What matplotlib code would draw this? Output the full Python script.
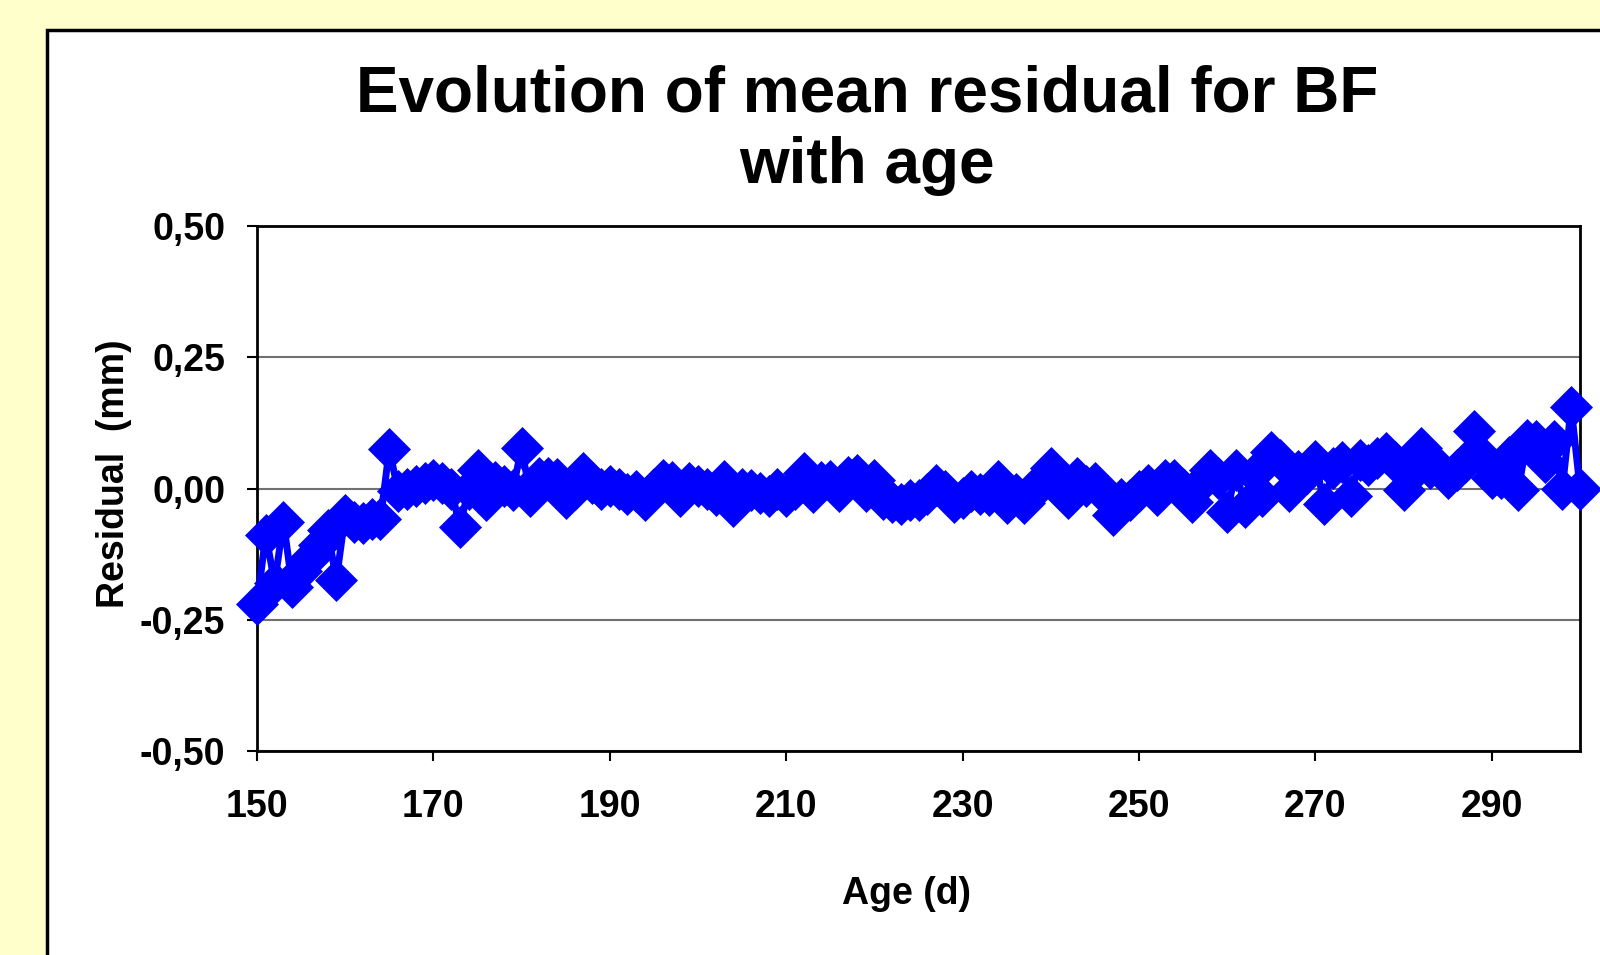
import numpy as np
import matplotlib
matplotlib.use("Agg")
import matplotlib.pyplot as plt
from matplotlib.patches import Rectangle
from matplotlib.ticker import FuncFormatter

plt.rcParams['font.family'] = ['Liberation Sans', 'DejaVu Sans']
plt.rcParams['font.weight'] = 'bold'

# age in days, one point per day
age = np.arange(150, 301)

residual = [
    -0.220, -0.088, -0.180, -0.063, -0.187, -0.158, -0.133, -0.107, -0.079, -0.174,
    -0.050, -0.063, -0.066, -0.058, -0.058, 0.075, -0.005, 0.000, 0.005, 0.010,
    0.017, 0.010, 0.000, -0.073, 0.000, 0.036, -0.022, 0.013, 0.005, -0.002,
    0.077, -0.015, 0.020, 0.020, 0.018, -0.018, 0.000, 0.030, 0.010, 0.000,
    0.004, 0.000, -0.010, -0.005, -0.022, 0.000, 0.017, 0.012, -0.015, 0.010,
    0.004, 0.000, -0.012, 0.015, -0.034, 0.000, -0.002, -0.008, -0.015, 0.000,
    -0.015, 0.000, 0.030, -0.006, 0.012, 0.014, -0.005, 0.022, 0.025, -0.005,
    0.017, -0.020, -0.025, -0.030, -0.022, -0.022, -0.010, 0.006, -0.004, -0.025,
    -0.018, -0.004, -0.010, -0.012, 0.015, -0.028, -0.010, -0.028, 0.000, 0.010,
    0.039, 0.000, -0.018, 0.020, 0.005, 0.010, -0.010, -0.050, -0.020, -0.022,
    -0.005, 0.007, -0.012, 0.017, 0.017, 0.000, -0.025, 0.010, 0.036, 0.020,
    -0.045, 0.035, -0.035, 0.027, -0.015, 0.070, 0.055, -0.005, 0.033, 0.030,
    0.052, -0.030, 0.040, 0.050, -0.015, 0.055, 0.045, 0.058, 0.068, 0.050,
    -0.003, 0.030, 0.077, 0.040, 0.040, 0.020, 0.035, 0.050, 0.110, 0.060,
    0.020, 0.020, 0.060, -0.003, 0.093, 0.090, 0.050, 0.090, 0.000, 0.155,
    0.000,
]

x_ticks = [150, 170, 190, 210, 230, 250, 270, 290]
y_ticks = [-0.50, -0.25, 0.00, 0.25, 0.50]

fig = plt.figure(figsize=(16, 9.55), dpi=100)
fig.patch.set_facecolor('#FFFFCC')

# white chart panel with black border
panel = Rectangle((47 / 1600, -0.1), 1.2, 1 - 30 / 955 + 0.1,
                  transform=fig.transFigure, facecolor='white',
                  edgecolor='black', linewidth=2.5, zorder=-5)
fig.patches.append(panel)

ax = fig.add_axes([257 / 1600, 1 - 751 / 955, (1580 - 257) / 1600, (751 - 226) / 955])
ax.set_zorder(2)
ax.set_facecolor('white')

ax.plot(age, residual, color='#0000FF', linewidth=5, marker='D',
        markersize=21, markeredgewidth=0.5, clip_on=False, zorder=3)

ax.set_xlim(150, 300)
ax.set_ylim(-0.5, 0.5)
ax.set_xticks(x_ticks)
ax.set_yticks(y_ticks)
ax.yaxis.set_major_formatter(FuncFormatter(lambda v, p: ('%.2f' % v).replace('.', ',')))
ax.tick_params(axis='both', direction='out', length=7, width=1.5,
               labelsize=27, colors='black')
ax.tick_params(axis='x', pad=20)
ax.tick_params(axis='y', pad=16)
for lab in ax.get_xticklabels() + ax.get_yticklabels():
    lab.set_fontweight('bold')

ax.grid(axis='y', color='#707070', linewidth=1.5)
ax.set_axisbelow(True)
for s in ax.spines.values():
    s.set_color('black')
    s.set_linewidth(2)

fig.text(867 / 1600, 1 - 94 / 955, 'Evolution of mean residual for BF',
         ha='center', va='center', fontsize=46, fontweight='bold')
fig.text(867 / 1600, 1 - 166 / 955, 'with age',
         ha='center', va='center', fontsize=46, fontweight='bold')
fig.text(906 / 1600, 1 - 894 / 955, 'Age (d)', ha='center', va='center',
         fontsize=27, fontweight='bold')
fig.text(114 / 1600, 1 - 474 / 955, 'Residual  (mm)', ha='center', va='center',
         rotation=90, fontsize=27, fontweight='bold')

fig.savefig('out.png', dpi=100, facecolor=fig.get_facecolor())
